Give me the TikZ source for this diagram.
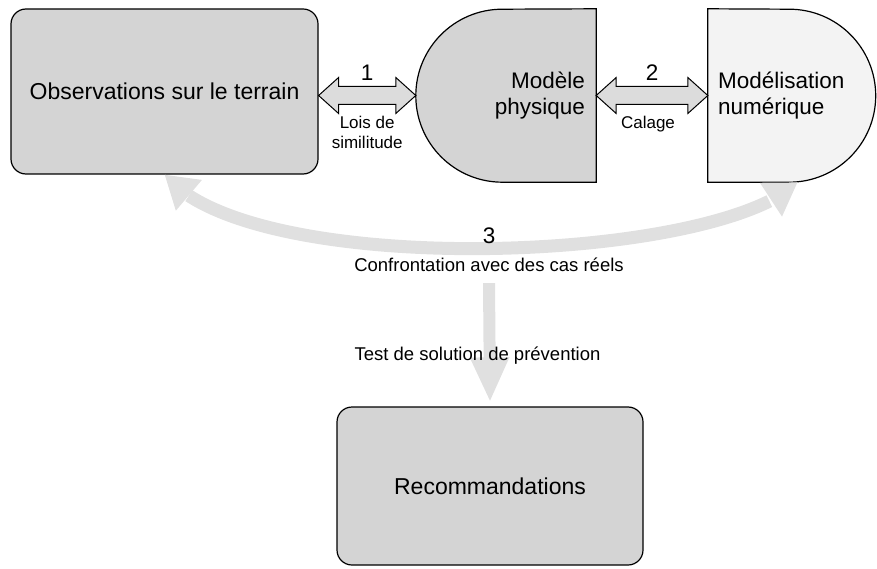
\documentclass[tikz,border=0pt]{standalone}
\usepackage{fontspec}
\setmainfont{Liberation Sans}
\usetikzlibrary{arrows.meta,calc,positioning,backgrounds,bending}
\definecolor{boxgray}{RGB}{212,212,212}
\definecolor{palegray}{RGB}{243,243,243}
\definecolor{bandgray}{RGB}{224,224,224}
\definecolor{arrowgray}{RGB}{220,220,220}
\newcommand{\bigtxt}{\fontsize{22.5}{26}\selectfont}
\newcommand{\boxtxt}{\fontsize{23}{27}\selectfont}
\newcommand{\smalltxt}{\fontsize{17}{20}\selectfont}
\newcommand{\midtxt}{\fontsize{18.5}{22}\selectfont}
% block double arrow between two points
\newcommand{\dblarrow}[2]{%
	\draw[blockarrow] (#1) -- ++(20,18) -- ++(0,-9) -- ($(#2)+(-20,9)$) -- ++(0,9)
	-- (#2) -- ++(-20,-18) -- ++(0,9) -- ($(#1)+(20,-9)$) -- ++(0,-9) -- cycle;}

\begin{document}
\begin{tikzpicture}[x=1pt,y=1pt,font=\bigtxt,
	box/.style={draw=black,fill=boxgray,line width=1.2pt,rounded corners=15pt,align=center,font=\boxtxt},
	dshape/.style={draw=black,line width=1.2pt},
	blockarrow/.style={draw=black,fill=arrowgray,line width=1pt,line join=miter},
	band/.style={draw=bandgray,line width=13pt},
	lbl/.style={font=\smalltxt,align=center,inner sep=0pt}]
	
	\useasboundingbox (0,0) rectangle (877,-569);
	
	%----------------------------
	% Top row: terrain, physical model, numerical model
	%----------------------------
	\node[box,minimum width=307pt,minimum height=165pt] (obs) at (164.5,-91.5)
	{Observations sur le terrain};
	
	\node[minimum width=180pt,minimum height=173pt,inner sep=0pt,
	text width=158pt,align=right] (phys) at (506,-95.5) {Modèle\\physique};
	
	\node[minimum width=167.5pt,minimum height=173pt,inner sep=0pt,
	text width=147.5pt,align=left] (num) at (791.75,-95.5) {Modélisation\\numérique};
	
	\begin{scope}[on background layer]
		% D shape, round side left
		\draw[dshape,fill=boxgray] (phys.north east) -- (phys.south east)
		-- ([xshift=86.5pt]phys.south west) arc[start angle=270,end angle=90,radius=86.5pt]
		-- cycle;
		% D shape, round side right
		\draw[dshape,fill=palegray] (num.north west) -- (num.south west)
		-- ([xshift=-86.5pt]num.south east) arc[start angle=-90,end angle=90,radius=86.5pt]
		-- cycle;
	\end{scope}
	
	%----------------------------
	% Arrows 1 and 2
	%----------------------------
	\coordinate (a1l) at (obs.east |- phys.west);
	\coordinate (a1r) at (phys.west);
	\coordinate (a2l) at (phys.east);
	\coordinate (a2r) at (num.west);
	
	\dblarrow{a1l}{a1r}
	\dblarrow{a2l}{a2r}
	
	\node[anchor=base,inner sep=0pt] (one) at ($(a1l)!0.5!(a1r)+(0,15)$) {1};
	\node[lbl,anchor=north] (law) at ($(a1l)!0.5!(a1r)+(0,-20)$) {Lois de\\similitude};
	
	\node[anchor=base,inner sep=0pt] (two) at ($(a2l)!0.5!(a2r)+(0,15)$) {2};
	\node[lbl,anchor=north] (cal) at ($(a2l)!0.5!(a2r)+(-4,-20)$) {Calage};
	
	%----------------------------
	% Arrow 3: comparison with real cases
	%----------------------------
	\draw[band,{Triangle[length=32pt,width=38pt]}-{Triangle[length=32pt,width=38pt]}]
	(obs.south) .. controls (250,-280) and (713,-264) .. ([xshift=6pt]num.south);
	
	\node (three) at (489,-236) {3};
	\node[lbl,font=\midtxt] (conf) at (489,-265) {Confrontation avec des cas réels};
	
	%----------------------------
	% Bottom: recommendations
	%----------------------------
	\node[box,minimum width=306pt,minimum height=158pt] (rec) at (490,-486)
	{Recommandations};
	
	\draw[band,line width=12pt,-{Triangle[length=45pt,width=36pt]}]
	([yshift=-11pt]conf.south) -- ([yshift=4pt]rec.north);
	
	\node[lbl,font=\midtxt] (test) at (477.5,-356) {Test de solution de prévention};
	
\end{tikzpicture}
\end{document}
